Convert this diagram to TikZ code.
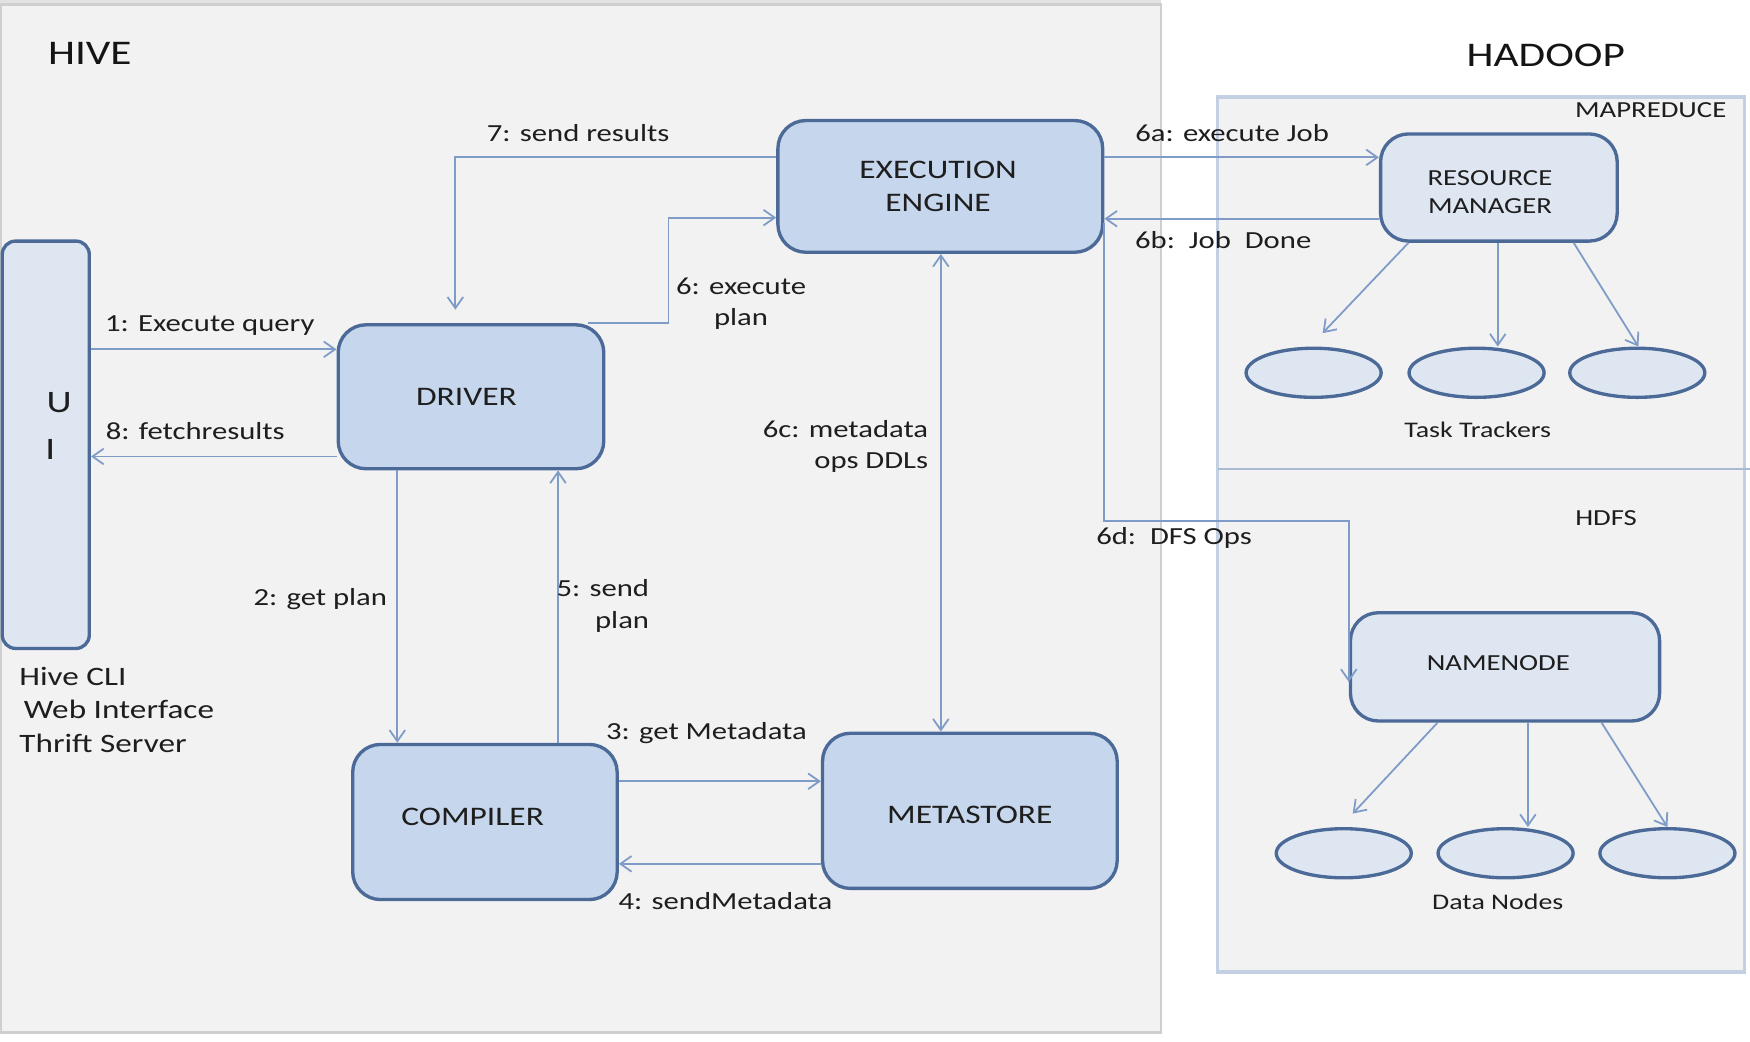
\documentclass[tikz,border=0pt]{standalone}
\usepackage{fontspec}
\setmainfont{Carlito}[FakeStretch=1.25]
\usetikzlibrary{arrows.meta,shapes.geometric,calc}
\definecolor{panelfill}{HTML}{F2F2F2}
\definecolor{panelline}{HTML}{CFCFCF}
\definecolor{topband}{HTML}{E2E2E2}
\definecolor{nodeborder}{HTML}{4C6A98}
\definecolor{nodefill}{HTML}{C6D6EC}
\definecolor{lightfill}{HTML}{DEE6F2}
\definecolor{linkcol}{HTML}{7F9CC8}
\definecolor{hadoopline}{HTML}{C3CFE3}
\definecolor{divline}{HTML}{A9BAD5}
\definecolor{txt}{HTML}{1E1E1E}
\tikzset{
  box/.style={draw=nodeborder, line width=1.5pt, fill=nodefill, rounded corners=12.5pt,
    align=center, text=txt, inner sep=0pt, font=\fontsize{12}{14.5}\selectfont},
  lbox/.style={box, fill=lightfill, font=\fontsize{10.3}{12.5}\selectfont},
  boxtext/.style={text=txt, inner sep=0pt, align=center, font=\fontsize{12}{14.5}\selectfont},
  lboxtext/.style={text=txt, inner sep=0pt, align=center, font=\fontsize{10.3}{12.5}\selectfont},
  oval/.style={ellipse, draw=nodeborder, line width=1.5pt, fill=lightfill, inner sep=0pt,
    minimum width=60.5pt, minimum height=22pt},
  link/.style={draw=linkcol, line width=0.8pt, -{Straight Barb[length=5pt,width=7pt]}},
  dlink/.style={draw=linkcol, line width=0.8pt, {Straight Barb[length=5pt,width=7pt]}-{Straight Barb[length=5pt,width=7pt]}},
  lbl/.style={text=txt, inner sep=0pt, font=\fontsize{11}{14}\selectfont},
  title/.style={text=black!92, inner sep=0pt, font=\fontsize{15.5}{18}\selectfont},
  small/.style={text=txt, inner sep=0pt, font=\fontsize{10.3}{12}\selectfont},
}
\begin{document}
\begin{tikzpicture}[x=0.5pt,y=-0.5pt]
\useasboundingbox (0,0) rectangle (1568,933.6);
\fill[white] (0,0) rectangle (1568,933.6);
% panels
\fill[topband] (0,0) rectangle (1040,4);
\draw[panelline, fill=panelfill, line width=1pt] (1,4) rectangle (1040,925);
\draw[hadoopline, fill=panelfill, line width=1.5pt] (1091,87) rectangle (1563,871);
\draw[divline, line width=1pt] (1091,420) -- (1568,420);
% titles
\node[title] (thive) at (80.5,48) {HIVE};
\node[title] (thadoop) at (1385,50) {HADOOP};
\node[small] (tmr) at (1479,99) {MAPREDUCE};
\node[small] (thdfs) at (1439,464) {HDFS};
% main nodes
\node[box, fill=lightfill, rounded corners=6pt, minimum width=39pt, minimum height=182.5pt] (ui) at (41,398.5) {};
\node[text=txt, inner sep=0pt, font=\fontsize{14}{16}\selectfont] (uiu) at (53,361) {U};
\node[text=txt, inner sep=0pt, font=\fontsize{14}{16}\selectfont] (uii) at (45,403) {I};
\node[box, minimum width=119pt, minimum height=64.5pt,
  label={[boxtext, xshift=-2pt]center:DRIVER}] (drv) at (422,355.5) {};
\node[box, minimum width=145.5pt, minimum height=59pt,
  label={[boxtext, xshift=-1pt]center:EXECUTION\\ENGINE}] (exec) at (842.5,167) {};
\node[box, minimum width=118.5pt, minimum height=69.5pt,
  label={[boxtext, xshift=-5.5pt, yshift=2.5pt]center:COMPILER}] (comp) at (434.5,736.5) {};
\node[box, minimum width=132pt, minimum height=69.5pt,
  label={[boxtext, yshift=-2pt]center:METASTORE}] (meta) at (869,726.5) {};
\node[lbox, minimum width=106pt, minimum height=48pt,
  label={[lboxtext, xshift=-4pt, yshift=-2pt]center:RESOURCE\\MANAGER}] (rm) at (1343,168) {};
\node[lbox, minimum width=138.5pt, minimum height=48.5pt,
  label={[lboxtext, xshift=-3pt, yshift=1.5pt]center:NAMENODE}] (nn) at (1348.5,597.5) {};
% ovals
\node[oval] (t1) at (1177,334) {};
\node[oval] (t2) at (1323,334) {};
\node[oval] (t3) at (1467,334) {};
\node[oval] (d1) at (1204,764.5) {};
\node[oval] (d2) at (1349,764.5) {};
\node[oval] (d3) at (1494,764.5) {};
\node[small, font=\fontsize{10}{12}\selectfont] (ttl) at (1324,385) {Task Trackers};
\node[small, font=\fontsize{10}{12}\selectfont] (dnl) at (1342,808) {Data Nodes};
% UI labels
\node[lbl, anchor=west, font=\fontsize{11.9}{14}\selectfont] (cli) at (17,606) {Hive CLI};
\node[lbl, anchor=west, font=\fontsize{11.9}{14}\selectfont] (web) at (21,636) {Web Interface};
\node[lbl, anchor=west, font=\fontsize{11.9}{14}\selectfont] (thr) at (17,666) {Thrift Server};
% connectors
\draw[link] (ui.east |- 0,313) -- (drv.west |- 0,313);
\draw[link] (drv.west |- 0,409) -- (ui.east |- 0,409);
\draw[link, shorten >=6pt] (exec.west |- 0,141) -| (drv.north -| 408,0);
\draw[link] (drv.north -| 527,0) -- ++(72,0) |- (exec.west |- 0,195);
\draw[link] (drv.south -| 356,0) -- (comp.north -| 356,0);
\draw[link] (comp.north -| 500,0) -- (drv.south -| 500,0);
\draw[link] (comp.east |- 0,700) -- (meta.west |- 0,700);
\draw[link] (meta.west |- 0,774) -- (comp.east |- 0,774);
\draw[dlink] (meta.north -| 843,0) -- (exec.south -| 843,0);
\draw[link] (exec.east |- 0,141) -- (rm.west |- 0,141);
\draw[link] (rm.west |- 0,196) -- (exec.east |- 0,196);
\draw[link] (exec.east |- 0,200) -- (exec.east |- 0,467) -| (nn.west |- 0,611);
\draw[link] (rm.south -| 1262,0) -- ($(t1.north)+(8,-12)$);
\draw[link] (rm.south -| 1342,0) -- (t2.north -| 1342,0);
\draw[link] (rm.south -| 1410,0) -- (t3.north -| 1468,0);
\draw[link] (nn.south -| 1288,0) -- ($(d1.north)+(8,-12)$);
\draw[link] (nn.south -| 1369,0) -- (d2.north -| 1369,0);
\draw[link] (nn.south -| 1435,0) -- (d3.north);
% connector labels
\node[lbl] (l7) at (518,119) {7: send\ results};
\node[lbl] (l1) at (188,292) {1: Execute query};
\node[lbl] (l8) at (175,386) {8: fetchresults};
\node[lbl, align=center] (l6) at (664,272) {6: execute\\plan};
\node[lbl] (l6a) at (1104,119) {6a: execute Job};
\node[lbl] (l6b) at (1096,215) {6b:\ \ Job\ \ Done};
\node[lbl, align=right, anchor=east] (l6c) at (832,400) {6c: metadata\\ops DDLs};
\node[lbl] (l6d) at (1052,482) {6d:\ \ DFS Ops};
\node[lbl] (l2) at (287,537) {2: get plan};
\node[lbl, align=right, anchor=east] (l5) at (582,543) {5: send\\plan};
\node[lbl] (l3) at (633,657) {3: get Metadata};
\node[lbl] (l4) at (650,807) {4: sendMetadata};
\end{tikzpicture}
\end{document}
